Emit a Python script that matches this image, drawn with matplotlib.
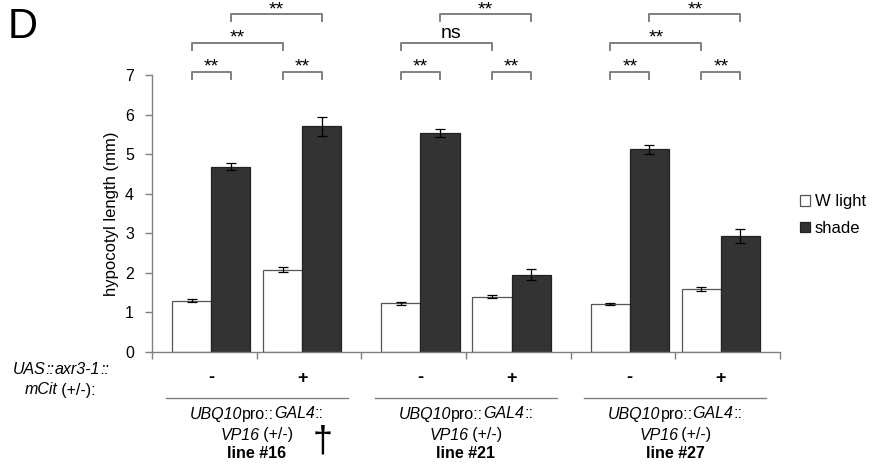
import numpy as np
import matplotlib.pyplot as plt
from matplotlib.transforms import blended_transform_factory

plt.rcParams['font.family'] = ['Liberation Sans', 'DejaVu Sans']

# hypocotyl length (mm)
lines = ['16', '21', '27']
axr3 = ['-', '+', '-', '+', '-', '+']
wlight = [1.30, 2.08, 1.23, 1.40, 1.22, 1.60]
wlight_err = [0.03, 0.07, 0.03, 0.04, 0.02, 0.05]
shade = [4.68, 5.70, 5.53, 1.95, 5.12, 2.93]
shade_err = [0.09, 0.24, 0.10, 0.14, 0.11, 0.17]

# (bar a, series a, bar b, series b, level, label)
comparisons = [
    (0, 'w', 0, 's', 1, '**'), (1, 'w', 1, 's', 1, '**'),
    (0, 'w', 1, 'w', 2, '**'), (0, 's', 1, 's', 3, '**'),
    (2, 'w', 2, 's', 1, '**'), (3, 'w', 3, 's', 1, '**'),
    (2, 'w', 3, 'w', 2, 'ns'), (2, 's', 3, 's', 3, '**'),
    (4, 'w', 4, 's', 1, '**'), (5, 'w', 5, 's', 1, '**'),
    (4, 'w', 5, 'w', 2, '**'), (4, 's', 5, 's', 3, '**'),
]

W, H = 874, 468
grey = '#808080'
dark = '#333333'
width = 0.373
pair_off = 0.435

line_x = 1 + 2 * np.arange(len(lines))
x = np.ravel(np.column_stack([line_x - pair_off, line_x + pair_off]))
xw = x - width / 2
xs = x + width / 2

fig = plt.figure(figsize=(W / 100, H / 100), dpi=100)
ax = fig.add_axes([152 / W, 1 - 352 / H, 628 / W, 277 / H])
renderer = fig.canvas.get_renderer()


def rich_text(xc, yc, parts, fs):
    # draw several differently styled pieces side by side, centred on xc
    texts = [fig.text(0, 1 - yc / H, s, ha='left', va='center', fontsize=fs,
                      **kw) for s, kw in parts]
    widths = [t.get_window_extent(renderer).width for t in texts]
    pos = xc - sum(widths) / 2
    for t, w in zip(texts, widths):
        t.set_x(pos / W)
        pos += w


ax.bar(xw, wlight, width, color='white', edgecolor='#555555', linewidth=0.9,
       label='W light', zorder=2)
ax.bar(xs, shade, width, color=dark, edgecolor='#222222', linewidth=0.9,
       label='shade', zorder=2)
ax.errorbar(xw, wlight, yerr=wlight_err, fmt='none', ecolor='black',
            elinewidth=0.9, capsize=3.5, capthick=0.9, zorder=3)
ax.errorbar(xs, shade, yerr=shade_err, fmt='none', ecolor='black',
            elinewidth=0.9, capsize=3.5, capthick=0.9, zorder=3)

ax.set_xlim(0, 6)
ax.set_ylim(0, 7)
ax.set_xticks(np.arange(7))
ax.set_xticklabels([])
ax.set_yticks(np.arange(8))
ax.tick_params(axis='both', direction='out', length=5, width=1, color=grey,
               labelsize=11.5, pad=8)
ax.tick_params(axis='x', pad=2)
for side in ['top', 'right']:
    ax.spines[side].set_visible(False)
for side in ['left', 'bottom']:
    ax.spines[side].set_color(grey)
    ax.spines[side].set_linewidth(1)
ax.set_ylabel('hypocotyl length (mm)', fontsize=12)
ax.yaxis.set_label_coords(-0.052, 0.5)

# significance brackets
level_top = {1: 7.08, 2: 7.81, 3: 8.54}
leg = 0.17
for a, sa, b, sb, lev, lab in comparisons:
    xa = xw[a] if sa == 'w' else xs[a]
    xb = xw[b] if sb == 'w' else xs[b]
    yt = level_top[lev]
    ax.plot([xa, xa, xb, xb], [yt - leg, yt, yt, yt - leg], color=grey,
            lw=1.4, clip_on=False)
    if lab == 'ns':
        ax.text((xa + xb) / 2 + 0.04, yt + 0.03, lab, ha='center',
                va='bottom', fontsize=14)
    else:
        ax.text((xa + xb) / 2, yt - 0.1, lab, ha='center', va='bottom',
                fontsize=14)

# x annotations below the axis
mixed = blended_transform_factory(ax.transData, fig.transFigure)
for xi, sign in zip(x, axr3):
    ax.text(xi, 1 - 378 / H, sign, transform=mixed, ha='center',
            va='center', fontsize=13, weight='bold')

fs = 11.5
it = {'style': 'italic'}
rm = {}
for lx, ln in zip(line_x, lines):
    xc = 152 + lx * 628 / 6
    fig.add_artist(plt.Line2D([(xc - 91) / W, (xc + 91) / W],
                              [1 - 398 / H] * 2, color=grey, lw=1))
    rich_text(xc, 414, [('UBQ10', it), ('pro::', rm), ('GAL4', it),
                        ('::', rm)], fs)
    rich_text(xc, 435, [('VP16', it), ('\u2009(+/-)', rm)], fs)
    fig.text(xc / W, 1 - 453 / H, 'line #' + ln, ha='center', va='center',
             fontsize=fs, weight='bold')

fig.text(323 / W, 1 - 442 / H, '\u2020', ha='center', va='center',
         fontsize=26)

rich_text(61, 369, [('UAS', it), ('::', it), ('axr3-1', it), ('::', it)], fs)
rich_text(60, 390, [('mCit', it), ('\u2009(+/-):', rm)], fs)

fig.text(8 / W, 1 - 27 / H, 'D', ha='left', va='center', fontsize=30)

fig.legend(loc='center left', bbox_to_anchor=(800 / W, 1 - 215 / H),
           frameon=False, fontsize=12, handlelength=0.6, handleheight=0.6,
           handletextpad=0.3, labelspacing=0.7, borderpad=0,
           borderaxespad=0)

fig.savefig('out.png', dpi=100)
